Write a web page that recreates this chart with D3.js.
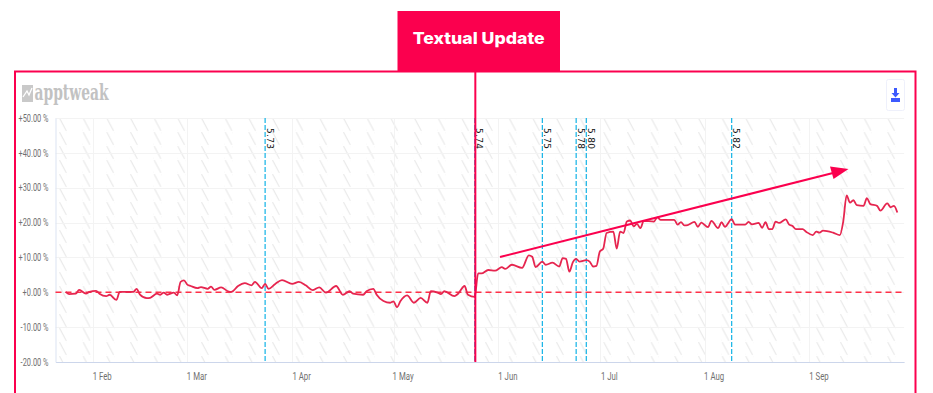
<!DOCTYPE html>
<html>
<head>
<meta charset="utf-8">
<title>Textual Update</title>
<script src="https://cdn.jsdelivr.net/npm/d3@7"></script>
<style>
    html, body { margin: 0; padding: 0; background: #fff; overflow: hidden; }
    svg { display: block; }
</style>
</head>
<body>
<svg id="chart" width="933" height="393"></svg>
<script>
// day of the year and percent change
const days = [24, 25, 27, 28, 30, 31, 33, 34, 36, 37, 39, 40, 44, 45, 46, 48, 49, 51, 52, 53, 54, 56, 57, 58, 59, 60,
    61, 63, 64, 66, 67, 68, 70, 72, 73, 75, 77, 79, 80, 82, 83, 84, 86, 88, 91, 93, 95, 97, 99, 101, 104, 106, 108,
    109, 112, 113, 115, 116, 118, 120, 121, 122, 123, 125, 127, 129, 131, 132, 134, 135, 136, 139, 140, 142, 143, 145,
    146, 147, 149, 151, 153, 154, 156, 159, 161, 162, 163, 165, 166, 168, 170, 171, 172, 173, 174, 175, 176, 178, 179,
    180, 181, 182, 183, 184, 186, 187, 188, 189, 190, 191, 192, 193, 194, 195, 198, 199, 200, 204, 205, 206, 207, 208,
    210, 211, 212, 214, 215, 217, 218, 219, 221, 222, 225, 226, 227, 229, 230, 231, 232, 233, 234, 235, 237, 238, 239,
    240, 242, 243, 245, 246, 247, 248, 251, 253, 254, 255, 256, 257, 258, 260, 261, 262, 264, 265, 267, 268, 269, 270];
const changes = [0.1, -0.5, -0.4, 0.7, -0.4, 0.1, 0.4, -0.4, -1.1, -0.7, -2.2, 0.1, 0.1, 1.0, -0.7, -1.7, -1.6, -0.4, -0.7, -0.1, -0.7, -0.1, -0.9, 3.0, 3.4, 2.2,
    1.8, 1.2, 1.5, 1.0, 1.6, 0.7, 1.4, 0.3, 0.1, 1.8, 2.6, 2.0, 3.0, 1.2, 2.4, 1.0, 2.4, 3.5, 2.4, 3.0, 2.0, 0.6, 1.4, -0.1, 1.8, -0.7, 0.3,
    -0.4, -0.7, 0.3, 1.0, -0.7, -2.5, -3.0, -2.6, -4.3, -2.6, -0.9, -3.0, -1.6, -3.0, 0.3, -0.1, -0.5, 0.3, -1.1, -0.5, 1.8, -0.7, -1.3,
    5.4, 5.4, 6.4, 6.2, 7.2, 6.7, 7.9, 7.0, 10.6, 10.2, 7.2, 8.8, 7.9, 8.5, 7.4, 9.8, 9.6, 5.9, 8.6, 9.6, 8.8, 9.2, 8.8,
    7.4, 7.6, 11.7, 12.5, 17.0, 17.4, 12.5, 17.4, 17.0, 20.3, 20.6, 18.9, 19.6, 18.4, 20.5, 20.3, 21.5, 20.8, 20.8, 19.4, 20.1, 19.2, 19.3,
    20.2, 18.8, 20.0, 18.7, 20.5, 18.4, 20.1, 18.8, 21.0, 19.4, 19.4, 20.2, 19.5, 19.9, 18.5, 20.1, 18.1, 18.1, 20.3, 19.9, 20.9, 19.4, 19.0,
    18.1, 18.1, 17.4, 16.4, 17.4, 17.1, 17.7, 17.1, 16.4, 20.3, 27.8, 25.7, 26.4, 25.0, 24.8, 27.0, 25.3, 24.8, 23.4, 25.5, 24.4, 24.8, 22.9];

const versions = ["5.73", "5.74", "5.75", "5.78", "5.80", "5.82"];
const versionDays = [83, 145, 165, 175, 178, 221];
const textualUpdateDay = 145;

const yTicks = [50, 40, 30, 20, 10, 0, -10, -20];
const monthLabels = ["1 Feb", "1 Mar", "1 Apr", "1 May", "1 Jun", "1 Jul", "1 Aug", "1 Sep"];
const monthStarts = [32, 60, 91, 121, 152, 182, 213, 244];

const pink = "#fb004e";
const asDate = d => new Date(Date.UTC(2019, 0, d));

const svg = d3.select("#chart");

const x = d3.scaleUtc()
    .domain([asDate(21), asDate(272)])
    .range([55.5, 904.1]);

const y = d3.scaleLinear()
    .domain([-20, 50])
    .range([362, 118]);

// hatched weekend bands
const defs = svg.append("defs");
const hatch = defs.append("pattern")
    .attr("id", "hatch")
    .attr("patternUnits", "userSpaceOnUse")
    .attr("width", 8)
    .attr("height", 14);
hatch.append("line")
    .attr("x1", 0.5).attr("y1", 0)
    .attr("x2", 7.5).attr("y2", 13)
    .attr("stroke", "#e9e9e9")
    .attr("stroke-width", 1.2);

svg.append("g")
    .selectAll("rect")
    .data(d3.range(22, 270, 7))
    .enter()
    .append("rect")
    .attr("transform", d => `translate(${x(asDate(d))}, ${y(50)})`)
    .attr("width", 8)
    .attr("height", y(-20) - y(50))
    .attr("fill", "url(#hatch)");

// grid
const grid = svg.append("g").attr("fill", "none");
grid.selectAll(".h")
    .data(yTicks.filter(d => d > -20))
    .enter()
    .append("line")
    .attr("x1", x.range()[0]).attr("x2", x.range()[1])
    .attr("y1", d => Math.round(y(d)) + 0.5).attr("y2", d => Math.round(y(d)) + 0.5)
    .attr("stroke", "#f3f3f3");
grid.selectAll(".v")
    .data(monthStarts)
    .enter()
    .append("line")
    .attr("x1", d => Math.round(x(asDate(d))) + 0.5).attr("x2", d => Math.round(x(asDate(d))) + 0.5)
    .attr("y1", y(50)).attr("y2", y(-20))
    .attr("stroke", "#f3f3f3");

// axes
const squeeze = (sel, k) => sel.each(function () {
    d3.select(this)
        .attr("textLength", this.getComputedTextLength() * k)
        .attr("lengthAdjust", "spacingAndGlyphs");
});

const xAxis = d3.axisBottom(x)
    .tickValues(monthStarts.map(asDate))
    .tickFormat((d, i) => monthLabels[i])
    .tickSize(0)
    .tickPadding(11);
const xAxisGroup = svg.append("g")
    .attr("transform", `translate(0, ${y(-20)})`)
    .call(xAxis);
xAxisGroup.select(".domain").attr("stroke", "#ccd6eb").attr("stroke-width", 1.2);
xAxisGroup.selectAll("text")
    .attr("dx", 9)
    .attr("fill", "#707070")
    .attr("font-family", "Roboto")
    .attr("font-size", 10)
    .call(squeeze, 0.78);

const yAxis = d3.axisLeft(y)
    .tickValues(yTicks)
    .tickFormat(d => `${d < 0 ? "-" : "+"}${Math.abs(d).toFixed(2)} %`)
    .tickSize(0)
    .tickPadding(7);
const yAxisGroup = svg.append("g")
    .attr("transform", `translate(${x.range()[0]}, 0)`)
    .call(yAxis);
yAxisGroup.select(".domain").attr("stroke", "#dbe3f2");
yAxisGroup.selectAll("text")
    .attr("fill", "#707070")
    .attr("font-family", "Roboto")
    .attr("font-size", 10)
    .call(squeeze, 0.74);

// version lines
const versionGroup = svg.append("g");
versionGroup.selectAll("line")
    .data(versionDays)
    .enter()
    .append("line")
    .attr("x1", d => x(asDate(d))).attr("x2", d => x(asDate(d)))
    .attr("y1", y(50)).attr("y2", y(-20))
    .attr("stroke", "#12b3e6")
    .attr("stroke-width", 1.2)
    .attr("stroke-dasharray", "5 2");
versionGroup.selectAll("text")
    .data(versions)
    .enter()
    .append("text")
    .text(d => d)
    .attr("transform", (d, i) => `translate(${x(asDate(versionDays[i])) + 1.5}, 128)rotate(90)`)
    .attr("font-family", "DejaVu Sans")
    .attr("font-size", 9)
    .attr("textLength", 21)
    .attr("lengthAdjust", "spacing")
    .attr("fill", "#111");

// zero line
svg.append("line")
    .attr("x1", x.range()[0]).attr("x2", x.range()[1] - 1)
    .attr("y1", y(0)).attr("y2", y(0))
    .attr("stroke", "#ff3048")
    .attr("stroke-width", 1.5)
    .attr("stroke-dasharray", "6 4");

// series
const changeLine = d3.line()
    .x(d => x(asDate(d)))
    .y((d, i) => y(changes[i]))
    .curve(d3.curveMonotoneX);

svg.append("path")
    .datum(days)
    .attr("d", changeLine)
    .attr("fill", "none")
    .attr("stroke", "#e6254f")
    .attr("stroke-width", 1.8);

// trend arrow
svg.append("line")
    .attr("x1", 500).attr("y1", 257)
    .attr("x2", 834).attr("y2", 172.7)
    .attr("stroke", pink)
    .attr("stroke-width", 2);
svg.append("path")
    .attr("d", "M848.5,169L830,166.5L833.5,179Z")
    .attr("fill", pink);

// frame, open at the bottom
svg.append("path")
    .attr("d", "M15,393V71.5H915.5V393")
    .attr("fill", "none")
    .attr("stroke", pink)
    .attr("stroke-width", 2);

// textual update marker
svg.append("line")
    .attr("x1", x(asDate(textualUpdateDay)) + 0.6).attr("x2", x(asDate(textualUpdateDay)) + 0.6)
    .attr("y1", 71).attr("y2", y(-20))
    .attr("stroke", pink)
    .attr("stroke-width", 2);
svg.append("rect")
    .attr("x", 397.5).attr("y", 11)
    .attr("width", 162.5).attr("height", 61)
    .attr("fill", pink);
svg.append("text")
    .text("Textual Update")
    .attr("x", 478.7).attr("y", 44)
    .attr("text-anchor", "middle")
    .attr("font-family", "Inter")
    .attr("font-weight", 800)
    .attr("font-size", 16.5)
    .attr("textLength", 132)
    .attr("lengthAdjust", "spacingAndGlyphs")
    .attr("fill", "#fff");

// logo
svg.append("path")
    .attr("d", "M22,85H33V102H22Z")
    .attr("fill", "#c9c9c9");
svg.append("path")
    .attr("d", "M23,97L27,91L29,95L32,88")
    .attr("fill", "none")
    .attr("stroke", "#fff")
    .attr("stroke-width", 1.3);
svg.append("text")
    .text("apptweak")
    .attr("x", 34.5).attr("y", 100)
    .attr("font-family", "DejaVu Serif")
    .attr("font-weight", 700)
    .attr("font-size", 23)
    .attr("textLength", 74)
    .attr("lengthAdjust", "spacingAndGlyphs")
    .attr("fill", "#c2c2c2");

// download button
svg.append("rect")
    .attr("x", 886.5).attr("y", 79.5)
    .attr("width", 18).attr("height", 31)
    .attr("rx", 2)
    .attr("fill", "#fff")
    .attr("stroke", "#eef0fb");
svg.append("path")
    .attr("d", "M894,88H897V93H899.5L895.5,97.5L891.5,93H894ZM891,98H900V102H891Z")
    .attr("fill", "#3d5afe");
</script>
</body>
</html>
